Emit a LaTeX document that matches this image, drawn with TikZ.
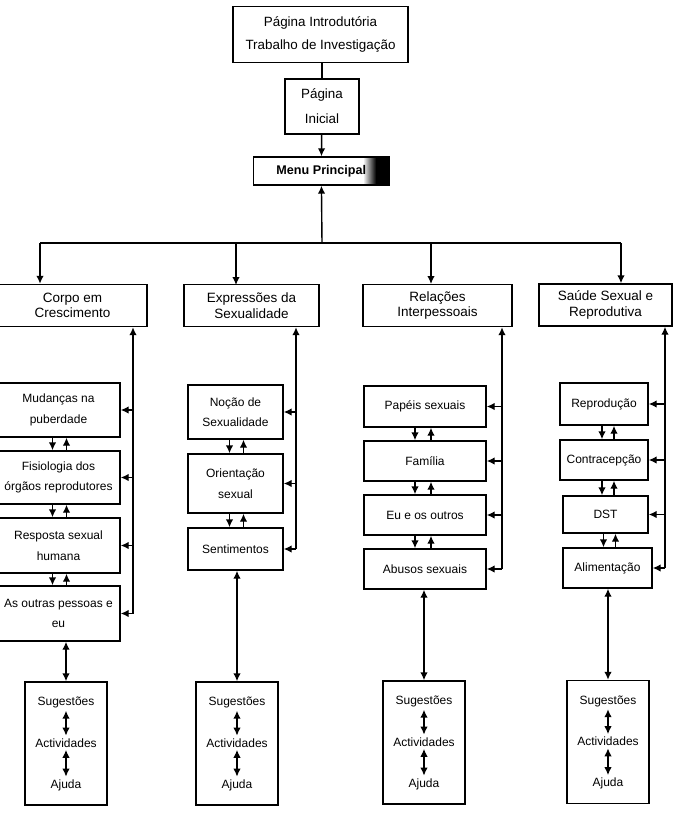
\documentclass[tikz,border=0pt]{standalone}
\usepackage{fontspec}
\setmainfont{Liberation Sans}
\usetikzlibrary{arrows.meta,calc}

\begin{document}
\begin{tikzpicture}[x=1pt,y=-1pt,line width=1.4pt,
  box/.style={draw,align=center,inner sep=0pt},
  head/.style={box,minimum height=42pt,font=\fontsize{13.5}{15.5}\selectfont},
  item/.style={box,font=\fontsize{12}{20.5}\selectfont},
  tail/.style={draw,minimum width=82pt,minimum height=123pt},
  txt/.style={inner sep=2pt,font=\fontsize{12}{14}\selectfont},
  arr/.style={-{Latex[length=8pt,width=7.5pt]}},
  both/.style={{Latex[length=8pt,width=7.5pt]}-{Latex[length=8pt,width=7.5pt]}},
  menu/.style={box,font=\bfseries\fontsize{12.6}{15}\selectfont}]
\useasboundingbox (0,0) rectangle (676,836);

\node[box,minimum width=175pt,minimum height=56pt,font=\fontsize{13.4}{23}\selectfont] (intro) at (320.5,34.5) {Página Introdutória\\Trabalho de Investigação};
\node[box,minimum width=74pt,minimum height=55pt,font=\fontsize{13.4}{25}\selectfont] (inicial) at (322,106.5) {Página\\Inicial};
\shade[left color=white,right color=black] (363,157) rectangle (376,185);
\fill[black] (376,157) rectangle (389.3,185);
\node[menu,minimum width=136pt,minimum height=28pt] (menu) at (321.3,171) {Menu Principal};
\draw (intro.south -| inicial.north) -- (inicial.north);
\draw[arr] (inicial) -- (menu);

\node[head,minimum width=149pt] (corpo) at (72.5,305.5) {Corpo em\\Crescimento};
\node[head,minimum width=135pt] (expr) at (251.5,305.5) {Expressões da\\Sexualidade};
\node[head,minimum width=149pt] (rel) at (437.5,305.5) {Relações\\Interpessoais};
\node[head,minimum width=133pt] (saude) at (605.5,305) {Saúde Sexual e\\Reprodutiva};

\coordinate (bus) at (322,243);
\coordinate (busl) at (40,243);
\coordinate (busr) at (621,243);
\draw[arr] (bus) -- (menu);
\draw (busl) -- (busr);
\draw[arr] (busl) -- (busl |- corpo.north);
\draw[arr] (236,243) -- (236,285);
\draw[arr] (431,243) -- (431,284);
\draw[arr] (busr) -- (busr |- saude.north);

\node[item,minimum width=123pt,minimum height=54pt] (mud) at (58.5,410) {Mudanças na\\puberdade};
\node[item,minimum width=123pt,minimum height=53pt] (fis) at (58.5,477.5) {Fisiologia dos\\órgãos reprodutores};
\node[item,minimum width=123pt,minimum height=55pt] (resp) at (58.5,545.5) {Resposta sexual\\humana};
\node[item,minimum width=123pt,minimum height=55pt] (outras) at (58.5,613.5) {As outras pessoas e\\eu};

\node[item,minimum width=95pt,minimum height=54pt] (noc) at (235.5,412) {Noção de\\Sexualidade};
\node[item,minimum width=95pt,minimum height=59pt] (ori) at (235.5,483.5) {Orientação\\sexual};
\node[item,minimum width=95pt,minimum height=42pt] (sent) at (235.5,549) {Sentimentos};

\node[item,minimum width=122pt,minimum height=41pt] (pap) at (425,406.5) {Papéis sexuais};
\node[item,minimum width=122pt,minimum height=40pt] (fam) at (425,461) {Família};
\node[item,minimum width=122pt,minimum height=40pt] (eu) at (425,515) {Eu e os outros};
\node[item,minimum width=122pt,minimum height=40pt] (abu) at (425,569) {Abusos sexuais};

\node[item,minimum width=88pt,minimum height=42pt] (rep) at (604,404) {Reprodução};
\node[item,minimum width=88pt,minimum height=40pt] (con) at (604,460) {Contracepção};
\node[item,minimum width=85pt,minimum height=37pt] (dst) at (605.5,514.5) {DST};
\node[item,minimum width=89pt,minimum height=40pt] (ali) at (607.5,568) {Alimentação};

\foreach \a/\b/\l/\r in {mud/fis/-6/8,fis/resp/-6/8,resp/outras/-6/8,
  noc/ori/-6/8,ori/sent/-6/8,pap/fam/-10/6,fam/eu/-10/6,eu/abu/-10/6,
  rep/con/-2/10,con/dst/-2/10,dst/ali/-2/10}{
  \draw[arr] ($(\a.south)+(\l,0)$) -- ($(\a.south |- \b.north)+(\l,0)$);
  \draw[arr] ($(\a.south |- \b.north)+(\r,0)$) -- ($(\a.south)+(\r,0)$);
}

\coordinate (v1) at (133,613.5);
\coordinate (v2) at (296,549);
\coordinate (v3) at (502,569);
\coordinate (v4) at (665,568);
\foreach \v/\h/\last/\rest in {v1/corpo/outras/{mud,fis,resp},v2/expr/sent/{noc,ori},
  v3/rel/abu/{pap,fam,eu},v4/saude/ali/{rep,con,dst}}{
  \draw[arr] (\v) -- (\v |- \h.south);
  \draw[arr] (\v) -- (\last.east);
  \foreach \n in \rest
    \draw[arr] (\v |- \n.east) -- (\n.east);
}

\foreach \i/\x/\y/\up in {1/66/743.5/outras,2/237/743.5/sent,3/424/742.5/abu,4/608/742/ali}{
  \node[tail] (ext\i) at (\x,\y) {};
  \node[txt,anchor=base] (sug\i) at (\x,\y-38) {Sugestões};
  \node[txt,anchor=base] (act\i) at (\x,\y+3.5) {Actividades};
  \node[txt,anchor=base] (ajd\i) at (\x,\y+44.5) {Ajuda};
  \draw[both] (\up.south -| ext\i.north) -- (ext\i.north);
  \draw[both] (sug\i) -- (act\i);
  \draw[both] (act\i) -- (ajd\i);
}
\end{tikzpicture}
\end{document}
